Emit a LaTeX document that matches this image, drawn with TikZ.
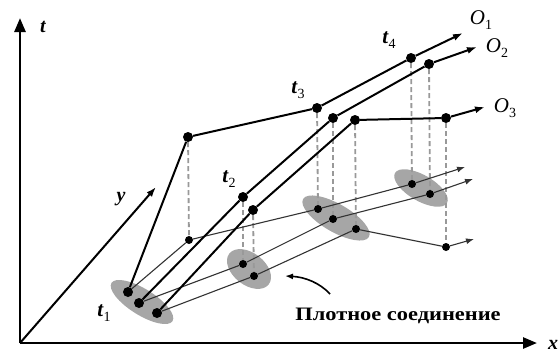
\documentclass[tikz,border=0pt]{standalone}
\usepackage{fontspec}
\setmainfont{Liberation Serif}
\usetikzlibrary{arrows.meta}
\newcommand{\tlab}[1]{\textbf{\textit{t}}\raisebox{-0.55ex}{\fontsize{14}{14}\selectfont #1}}
\newcommand{\olab}[1]{\textit{O}\raisebox{-0.55ex}{\fontsize{14}{14}\selectfont #1}}

\begin{document}
\begin{tikzpicture}[
  x=1pt,y=-1pt,
  dot/.style={circle,fill=black,inner sep=0pt,minimum size=10pt},
  pdot/.style={dot,minimum size=8pt},
  traj/.style={line width=2pt},
  proj/.style={line width=1.1pt,draw=black!80},
  drop/.style={draw=black!40,line width=1.8pt,dash pattern=on 5pt off 3pt},
  cluster/.style={fill=black!35},
  axis/.style={line width=2.6pt,-{Triangle[length=14pt,width=11pt]}},
  tip/.style={-{Latex[length=10pt,width=7pt]}},
  lab/.style={font=\fontsize{21}{21}\selectfont,inner sep=0pt},
  axlab/.style={lab,font=\fontsize{20}{20}\selectfont\bfseries\itshape}
]
\useasboundingbox (0,0) rectangle (559,354);

% clusters
\fill[cluster,rotate around={-32:(142,302)}] (142,302) ellipse [x radius=36,y radius=13];
\fill[cluster,rotate around={-38:(249,269)}] (249,269) ellipse [x radius=25,y radius=16];
\fill[cluster,rotate around={-30:(336,218)}] (336,218) ellipse [x radius=38,y radius=14];
\fill[cluster,rotate around={-30:(421,188)}] (421,188) ellipse [x radius=30,y radius=13];

% axes
\coordinate (o) at (20,343);
\coordinate (tend) at (20,18);
\coordinate (xend) at (537,343);
\coordinate (yend) at (156,187);
\draw[axis] (o) -- (tend);
\draw[axis] (o) -- (xend);
\draw[line width=2pt,tip] (o) -- (yend);
\node[axlab] (tl) at (43,27) {t};
\node[axlab] (xl) at (553,345) {x};
\node[axlab] (yl) at (121,199) {y};

% trajectory points
\node[dot] (a1) at (128,292) {};
\node[dot] (a2) at (188,137) {};
\node[dot] (a3) at (317,108) {};
\node[dot] (a4) at (411,58) {};
\node[dot] (b1) at (139,303) {};
\node[dot] (b2) at (243,197) {};
\node[dot] (b3) at (333,118) {};
\node[dot] (b4) at (429,64) {};
\node[dot] (c1) at (157,313) {};
\node[dot] (c2) at (253,210) {};
\node[dot] (c3) at (355,120) {};
\node[dot] (c4) at (446,118) {};
\coordinate (oa) at (463,33);
\coordinate (ob) at (477,47);
\coordinate (oc) at (485,107);

% projections
\node[pdot] (pa2) at (189,240) {};
\node[pdot] (pa3) at (318,209) {};
\node[pdot] (pa4) at (412,184) {};
\node[pdot] (pb2) at (243,264) {};
\node[pdot] (pb3) at (333,219) {};
\node[pdot] (pb4) at (430,194) {};
\node[pdot] (pc2) at (254,276) {};
\node[pdot] (pc3) at (356,229) {};
\node[pdot] (pc4) at (446,247) {};
\coordinate (qa) at (465,167);
\coordinate (qb) at (473,179);
\coordinate (qc) at (474,239);

% drop lines
\foreach \n in {a,b,c}
  \foreach \k in {2,3,4}
    \draw[drop] (\n\k) -- (p\n\k);

% ground tracks
\draw[proj] (a1) -- (pa2) -- (pa3) -- (pa4);
\draw[proj] (b1) -- (pb2) -- (pb3) -- (pb4);
\draw[proj] (c1) -- (pc2) -- (pc3) -- (pc4);
\draw[proj,-{Latex[length=8pt,width=6pt]}] (pa4) -- (qa);
\draw[proj,-{Latex[length=8pt,width=6pt]}] (pb4) -- (qb);
\draw[proj,-{Latex[length=8pt,width=6pt]}] (pc4) -- (qc);

% trajectories
\draw[traj] (a1) -- (a2) -- (a3) -- (a4);
\draw[traj] (b1) -- (b2) -- (b3) -- (b4);
\draw[traj] (c1) -- (c2) -- (c3) -- (c4);
\draw[traj,tip] (a4) -- (oa);
\draw[traj,tip] (b4) -- (ob);
\draw[traj,tip] (c4) -- (oc);

% labels
\node[lab] (t1) at (104,313) {\tlab{1}};
\node[lab] (t2) at (229,179) {\tlab{2}};
\node[lab] (t3) at (298,90) {\tlab{3}};
\node[lab] (t4) at (389,40) {\tlab{4}};
\node[lab] (o1) at (481,20) {\olab{1}};
\node[lab] (o2) at (497,48) {\olab{2}};
\node[lab] (o3) at (505,108) {\olab{3}};

% dense connection
\node[inner sep=0pt,font=\fontsize{19}{19}\selectfont\bfseries] (dense) at (398,316)
  {\scalebox{1.18}[1]{Плотное соединение}};
\coordinate (cs) at (330,294);
\coordinate (ce) at (285,276);
\draw[line width=1.6pt,-{Latex[length=8pt,width=6pt]}] (cs) .. controls (320,283) and (305,277) .. (ce);
\end{tikzpicture}
\end{document}
